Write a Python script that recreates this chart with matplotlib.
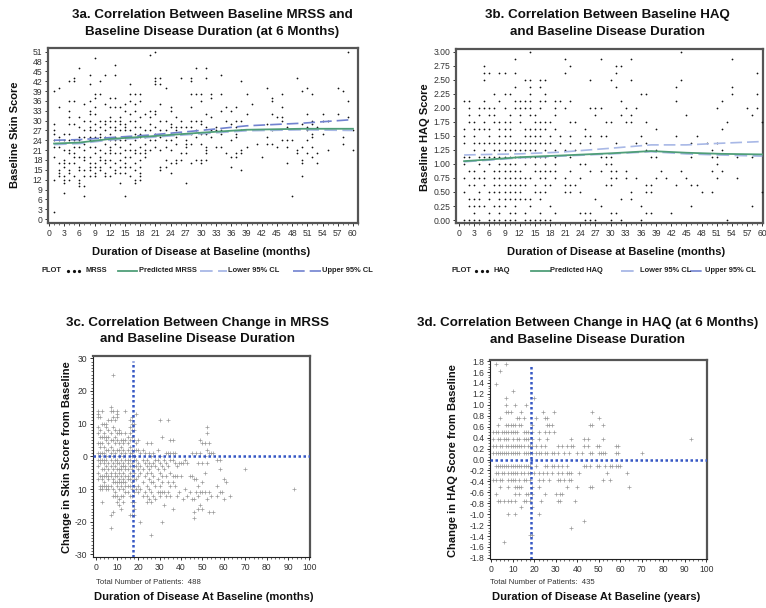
import matplotlib.pyplot as plt
from matplotlib.lines import Line2D
from matplotlib.ticker import MultipleLocator

plt.rcParams['font.family'] = ['Liberation Sans', 'DejaVu Sans']

# ---------------- data ----------------
# 3a: baseline MRSS by disease duration (months) -> list of scores
mrss_by_month = {
    1: [39, 29, 27, 26, 24, 22, 19, 12, 2], 2: [40, 34, 25, 24, 22, 17, 15, 14, 13],
    3: [26, 24, 21, 18, 17, 16, 13, 12, 11, 8],
    4: [42, 36, 33, 31, 29, 26, 24, 21, 20, 17, 15, 14, 12],
    5: [43, 42, 36, 29, 24, 22, 20, 19, 17, 13],
    6: [46, 31, 28, 25, 24, 22, 19, 16, 15, 12, 11, 10],
    7: [35, 30, 27, 25, 23, 21, 19, 18, 15, 13, 10, 7],
    8: [44, 41, 36, 33, 32, 30, 28, 27, 25, 24, 22, 19, 17, 16, 15, 13],
    9: [49, 38, 37, 34, 32, 29, 27, 25, 22, 20, 17, 16, 14, 13],
    10: [42, 38, 30, 28, 26, 25, 24, 21, 19, 18, 16, 15],
    11: [44, 35, 30, 29, 27, 25, 23, 20, 18, 17, 14, 13],
    12: [37, 34, 31, 30, 28, 26, 24, 22, 21, 20, 18, 16, 13],
    13: [47, 44, 37, 34, 30, 28, 27, 25, 24, 23, 20, 17, 15, 14],
    14: [34, 31, 30, 29, 27, 24, 22, 20, 18, 16, 14, 11],
    15: [35, 33, 29, 28, 27, 25, 24, 21, 19, 17, 16, 14, 7],
    16: [41, 38, 36, 32, 30, 27, 25, 23, 21, 19, 16, 13],
    17: [38, 35, 33, 30, 28, 26, 24, 21, 20, 17, 15, 12, 11],
    18: [38, 36, 31, 28, 26, 25, 22, 20, 18, 16, 14, 13, 12],
    19: [32, 27, 25, 23, 21, 20, 19], 20: [50, 33, 31, 29, 27, 24, 21],
    21: [51, 43, 42, 41, 33, 32, 28, 26, 24, 22],
    22: [43, 41, 35, 30, 27, 25, 21, 16, 15], 23: [40, 30, 27, 24, 22, 18, 16],
    24: [34, 33, 29, 28, 26, 24, 21, 17, 14], 25: [31, 28, 27, 25, 23, 18, 17],
    26: [43, 30, 28, 26, 20, 18], 27: [28, 24, 23, 22, 20, 11],
    28: [43, 42, 38, 34, 30, 28, 26, 23, 17], 29: [46, 38, 30, 27, 25, 18],
    30: [38, 36, 30, 29, 26, 23, 18, 17], 31: [46, 43, 32, 28, 26, 22, 21, 20, 18],
    32: [38, 37, 31, 27, 25], 33: [28, 27, 22], 34: [44, 38, 33, 27, 26, 22],
    35: [34, 30, 20], 36: [33, 29, 24, 19, 16], 37: [34, 30, 28, 26, 25, 20, 19],
    38: [42, 30, 27, 21, 20, 15], 39: [38, 32, 22], 40: [35], 41: [23], 42: [19],
    43: [40, 29, 25, 23], 44: [37, 36, 32, 27, 23], 45: [31, 22],
    46: [38, 34, 31, 30, 24], 47: [28, 24, 22, 17], 48: [24, 7], 49: [43, 21, 20],
    50: [39, 29, 22, 18, 17, 13], 51: [40, 32, 28, 27, 24, 20],
    52: [38, 30, 29, 26, 25, 22, 19], 53: [28, 20, 17], 54: [32, 30, 26],
    55: [30, 21], 57: [40, 32], 58: [39, 25, 23], 59: [51, 36, 31], 60: [27, 21],
}
mrss_fit_x = [1, 6, 12, 20, 30, 39, 50, 60]
mrss_pred = [23.0, 23.3, 24.4, 25.2, 26.3, 27.2, 27.5, 27.5]
mrss_lower = [22.7, 23.0, 24.1, 24.9, 26.0, 26.9, 27.2, 27.0]
mrss_upper = [24.0, 24.2, 24.8, 25.6, 27.0, 28.4, 29.2, 30.3]

# 3b: baseline HAQ level -> list of durations (months)
haq_by_level = {
    3.0: [14, 44], 2.875: [11, 21, 28, 34, 54], 2.75: [5, 22, 31, 32],
    2.625: [5, 6, 8, 9, 11, 21, 31, 59], 2.5: [5, 13, 14, 16, 17, 26, 30, 34, 44],
    2.375: [11, 14, 16, 31, 43, 54], 2.25: [7, 9, 10, 14, 17, 36, 37, 54, 59],
    2.125: [1, 2, 5, 8, 11, 12, 13, 14, 16, 17, 19, 20, 22, 32, 43, 52],
    2.0: [2, 4, 5, 6, 7, 9, 11, 12, 13, 14, 16, 19, 21, 26, 27, 28, 33, 35, 51, 57, 59],
    1.875: [2, 4, 6, 7, 10, 12, 14, 15, 19, 27, 32, 34, 45, 58],
    1.75: [2, 3, 5, 7, 8, 9, 10, 12, 15, 16, 17, 18, 22, 23, 29, 30, 33, 34, 37, 53, 60],
    1.625: [1, 3, 4, 5, 6, 8, 9, 10, 13, 14, 15, 16, 17, 19, 25, 39, 52],
    1.5: [1, 3, 6, 8, 9, 10, 13, 14, 15, 16, 18, 20, 22, 25, 26, 28, 29, 36, 43, 47],
    1.375: [1, 3, 4, 5, 6, 7, 8, 9, 10, 11, 12, 13, 14, 15, 16, 17, 18, 20, 22, 24,
            26, 31, 35, 37, 46, 49, 51],
    1.25: [3, 5, 7, 8, 9, 10, 11, 12, 13, 14, 15, 17, 19, 21, 23, 37, 39, 50, 52],
    1.125: [1, 2, 4, 5, 6, 7, 8, 9, 10, 11, 12, 13, 14, 15, 16, 17, 19, 22, 28, 29,
            30, 38, 39, 46, 50, 51, 55, 58],
    1.0: [1, 4, 6, 8, 9, 10, 11, 13, 15, 17, 19, 24, 25, 29, 30, 51],
    0.875: [2, 3, 5, 7, 8, 9, 10, 11, 12, 15, 16, 17, 18, 19, 22, 26, 28, 30, 31, 33,
            40, 44, 50, 52],
    0.75: [1, 3, 4, 5, 7, 8, 9, 10, 11, 12, 13, 14, 16, 17, 19, 21, 24, 30, 31, 33,
           35, 39, 41, 45, 51, 55],
    0.625: [2, 3, 5, 7, 8, 9, 10, 11, 12, 13, 15, 17, 18, 21, 22, 23, 29, 30, 37, 38,
            43, 46, 47],
    0.5: [1, 4, 6, 7, 8, 9, 10, 11, 12, 15, 16, 17, 21, 22, 24, 34, 37, 38, 48, 50, 60],
    0.375: [2, 3, 4, 6, 8, 9, 10, 11, 12, 13, 14, 16, 27, 32, 34],
    0.25: [2, 3, 4, 5, 7, 8, 9, 11, 14, 18, 28, 36, 46, 58],
    0.125: [3, 6, 8, 10, 11, 13, 16, 19, 24, 25, 26, 30, 31, 37, 38, 42],
    0.0: [1, 2, 3, 4, 6, 7, 8, 9, 10, 11, 13, 14, 15, 16, 17, 18, 25, 26, 27, 30, 32,
          36, 53],
}
haq_fit_x = [1, 6, 12, 20, 30, 38, 45, 52, 60]
haq_pred = [1.05, 1.08, 1.12, 1.15, 1.19, 1.23, 1.20, 1.18, 1.17]
haq_lower = [1.04, 1.07, 1.11, 1.14, 1.18, 1.22, 1.18, 1.16, 1.14]
haq_upper = [1.16, 1.17, 1.18, 1.21, 1.28, 1.34, 1.34, 1.37, 1.40]

# 3c: change in MRSS by disease duration (months)
dmrss_by_month = {
    1: [14, 13, 12, 9, 7, 4, 1, -1, -3, -5, -7],
    2: [12, 8, 6, 4, 3, 1, 0, -1, -2, -6, -9, -10],
    3: [14, 10, 6, 4, 1, -1, -4, -6, -7, -9, -10, -14],
    4: [10, 7, 6, 3, 1, -1, -2, -4, -6, -8, -9],
    5: [10, 9, 6, 5, 2, 0, -1, -3, -5, -6, -9, -10],
    6: [11, 8, 6, 4, 2, -2, -4, -6, -7, -9, -10],
    7: [15, 14, 11, 7, 5, 3, 1, -1, -3, -5, -6, -9, -18, -22],
    8: [25, 14, 12, 9, 5, 2, 0, -2, -4, -7, -8, -10, -12, -17],
    9: [11, 8, 6, 4, 1, -1, -3, -5, -6, -8, -11, -12],
    10: [14, 13, 12, 7, 5, 2, -1, -2, -4, -6, -8, -9, -12, -14],
    11: [8, 7, 4, 2, 0, -2, -4, -5, -7, -8, -10, -13, -15],
    12: [7, 5, 3, 1, -1, -3, -4, -6, -8, -9, -12, -16],
    13: [5, 4, 2, 0, -2, -3, -5, -7, -8, -10, -12, -14],
    14: [14, 7, 5, 1, -1, -3, -4, -6, -8, -9, -11],
    15: [6, 4, 2, -1, -2, -4, -6, -7, -9, -11],
    16: [11, 9, 7, 5, 3, 1, -1, -3, -5, -7, -9, -12, -18],
    17: [12, 10, 8, 6, 2, 1, 0, -2, -4, -6, -8, -10, -12, -14, -18],
    18: [10, 8, 5, 2, 0, -1, -3, -5, -7, -9, -11, -14, -16, -18],
    19: [13, 4, 2, -1, -3, -7, -10], 20: [5, 2, -2, -4, -6, -9, -11],
    21: [1, -3, -5, -10, -20], 22: [2, -1, -4, -8, -12], 23: [1, -2, -6, -11],
    24: [4, -1, -3, -5, -9, -12, -14], 25: [1, -2, -4, -7, -10, -13],
    26: [4, 0, -3, -5, -8, -11, -14, -24], 27: [1, -2, -6, -8, -12],
    28: [-1, -3, -9, -13], 29: [2, -1, -4, -7, -11], 30: [11, 0, -2, -5, -9, -11, -12],
    31: [6, -3, -6, -8, -11, -20], 32: [-1, -4, -11, -15], 33: [1, -2, -6, -12],
    34: [11, 1, -3, -8, -11], 35: [5, 1, -1, -5, -9, -12], 36: [5, 1, -1, -6, -8, -16],
    37: [1, -2, -6, -9], 38: [-3, -6, -12], 39: [-2, -11], 40: [-2, -6], 41: [-2, -13],
    42: [-1, -10], 43: [-2, -12], 44: [-6, -11], 45: [1, -6, -13],
    46: [-7, -13, -17, -19], 47: [1, -7, -11], 48: [-2, -9, -12, -16],
    49: [5, 1, -11, -15], 50: [4, -2, -8, -11, -16], 51: [4, 0, -5, -11],
    52: [9, 7, 2, -2, -13], 53: [4, 1, -11, -17], 54: [1, -12], 55: [1, -17],
    57: [-1, -9, -12], 58: [-1, -4, -11], 59: [-11], 60: [-7, -13], 61: [-8],
    63: [-12], 70: [-4], 93: [-10],
}
dmrss_median = 17.3

# 3d: change in HAQ level -> list of durations (years)
dhaq_by_level = {
    1.75: [2, 7], 1.625: [4], 1.375: [2], 1.25: [10], 1.125: [7, 20],
    1.0: [7, 11, 16], 0.875: [7, 8, 9, 14, 24, 29, 47],
    0.75: [4, 12, 13, 15, 21, 25, 26, 50],
    0.625: [3, 7, 8, 9, 10, 11, 13, 14, 19, 26, 27, 28, 46, 47, 52],
    0.5: [1, 2, 3, 5, 6, 7, 8, 9, 10, 11, 12, 15, 16, 17, 19, 22, 25, 27, 29],
    0.375: [1, 3, 4, 6, 7, 8, 10, 12, 13, 15, 16, 17, 19, 22, 26, 37, 43, 45, 52, 93],
    0.25: [1, 2, 4, 5, 7, 8, 9, 10, 11, 12, 13, 14, 15, 17, 18, 19, 21, 23, 25, 31,
           33, 35, 37, 38, 43, 45, 49, 50, 58, 59],
    0.125: [1, 2, 3, 4, 5, 6, 7, 8, 9, 10, 11, 12, 13, 15, 16, 17, 18, 19, 21, 22, 23,
            25, 26, 28, 29, 31, 34, 36, 40, 42, 46, 47, 50, 51, 52, 53, 58, 59, 70],
    -0.125: [2, 3, 4, 5, 6, 7, 8, 9, 10, 11, 12, 13, 14, 15, 16, 17, 18, 21, 25, 26,
             28, 29, 31, 33, 35, 43, 44, 46, 49, 50, 53, 55, 56, 58, 59, 60],
    -0.25: [2, 3, 5, 6, 8, 9, 10, 11, 12, 14, 15, 17, 18, 20, 22, 24, 26, 28, 31, 33,
            35, 36, 37, 41, 54, 63],
    -0.375: [1, 2, 4, 5, 8, 9, 10, 11, 13, 15, 16, 18, 22, 24, 27, 31, 32, 34, 36, 37,
             52, 55],
    -0.5: [4, 8, 11, 12, 13, 14, 19, 22, 35, 40, 46, 47, 64],
    -0.625: [2, 11, 13, 16, 17, 19, 25, 30, 32, 33],
    -0.75: [3, 4, 6, 8, 9, 11, 15, 16, 18, 23, 31, 32, 39],
    -0.875: [14, 19], -1.0: [8, 11, 22], -1.125: [43], -1.25: [37],
    -1.375: [18, 19], -1.5: [6],
}
dhaq_median = 18.4

GREEN = '#4f9e78'
LOWER = '#a8b8e6'
UPPER = '#7182cf'
REF = '#3557c4'
SPINE = '#555555'


def flatten_by_x(d):
    xs, ys = [], []
    for x, vals in d.items():
        xs += [x] * len(vals)
        ys += vals
    return xs, ys


def flatten_by_y(d):
    xs, ys = [], []
    for y, vals in d.items():
        xs += vals
        ys += [y] * len(vals)
    return xs, ys


def style_axes(ax, heavy_all=True):
    for name, sp in ax.spines.items():
        sp.set_color(SPINE)
        sp.set_linewidth(1.6)
    if not heavy_all:
        ax.spines['left'].set_color('#222')
        ax.spines['left'].set_linewidth(0.8)
        ax.spines['bottom'].set_color('#222')
        ax.spines['bottom'].set_linewidth(0.8)
    ax.tick_params(which='major', direction='out', length=2.5, width=0.7,
                   labelsize=6.2, labelcolor='#333', colors='#333', pad=1.5)
    ax.tick_params(which='minor', direction='out', length=1.5, width=0.5, colors='#333')


fig = plt.figure(figsize=(7.66, 6.08), dpi=100)
W, H = 766.0, 608.0


def axes_px(left, top, right, bottom):
    return fig.add_axes([left / W, 1 - bottom / H, (right - left) / W, (bottom - top) / H])


def ftext(x, y, s, **kw):
    fig.text(x / W, 1 - y / H, s, **kw)


def fline(x0, x1, y, **kw):
    fig.add_artist(Line2D([x0 / W, x1 / W], [1 - y / H, 1 - y / H],
                          transform=fig.transFigure, **kw))


title_kw = dict(fontsize=9.6, fontweight='bold', ha='center', va='center', color='#111')
lab_kw = dict(fontsize=8.0, fontweight='bold', ha='center', va='center', color='#111')

# ---------------- 3a ----------------
ax = axes_px(48, 48, 358, 223)
mx, my = flatten_by_x(mrss_by_month)
ax.scatter(mx, my, s=1.6, color='#111', linewidths=0, zorder=3)
ax.plot(mrss_fit_x, mrss_lower, color=LOWER, lw=1.3, dashes=(7, 3), zorder=4)
ax.plot(mrss_fit_x, mrss_pred, color=GREEN, lw=1.3, zorder=5)
ax.plot(mrss_fit_x, mrss_upper, color=UPPER, lw=1.2, dashes=(7, 3), zorder=4)
ax.set_xlim(-0.2, 61)
ax.set_ylim(-1.2, 52.1)
ax.set_xticks(range(0, 61, 3))
ax.set_yticks(range(0, 52, 3))
ax.xaxis.set_minor_locator(MultipleLocator(1))
style_axes(ax)
ftext(212, 15, '3a. Correlation Between Baseline MRSS and', **title_kw)
ftext(212, 32, 'Baseline Disease Duration (at 6 Months)', **title_kw)
ftext(201, 252, 'Duration of Disease at Baseline (months)', **lab_kw)
ftext(15, 135, 'Baseline Skin Score', rotation=90, **lab_kw)

# ---------------- 3b ----------------
ax = axes_px(456, 49, 763, 223)
hx, hy = flatten_by_y(haq_by_level)
ax.scatter(hx, hy, s=1.6, color='#111', linewidths=0, zorder=3)
ax.plot(haq_fit_x, haq_lower, color=LOWER, lw=1.3, dashes=(7, 3), zorder=4)
ax.plot(haq_fit_x, haq_pred, color=GREEN, lw=1.3, zorder=5)
ax.plot(haq_fit_x, haq_upper, color=LOWER, lw=1.2, dashes=(7, 3), zorder=4)
ax.set_xlim(-0.6, 60.15)
ax.set_ylim(-0.053, 3.05)
ax.set_xticks(range(0, 61, 3))
ax.set_yticks([i * 0.25 for i in range(13)])
ax.set_yticklabels([f'{i * 0.25:.2f}' for i in range(13)])
ax.xaxis.set_minor_locator(MultipleLocator(1))
style_axes(ax)
ftext(607, 15, '3b. Correlation Between Baseline HAQ', **title_kw)
ftext(607, 32, 'and Baseline Disease Duration', **title_kw)
ftext(616, 252, 'Duration of Disease at Baseline (months)', **lab_kw)
ftext(425, 137, 'Baseline HAQ Score', rotation=90, **lab_kw)

# legends for 3a / 3b (x positions in pixels)
leg_kw = dict(fontsize=5.4, fontweight='bold', va='center', ha='left', color='#222')
for name, xs in [('MRSS', (41, 67, 86, 118, 139, 200, 228, 293, 322)),
                 ('HAQ', (451, 475, 493, 531, 550, 621, 640, 690, 705))]:
    y = 271
    ftext(xs[0], y, 'PLOT', **leg_kw)
    for k in range(3):
        fig.add_artist(Line2D([(xs[1] + 1 + 5.5 * k) / W], [1 - y / H], marker='o',
                              ms=1.3, color='#111', transform=fig.transFigure))
    ftext(xs[2], y, name, **leg_kw)
    fline(xs[3], xs[3] + 19, y, color=GREEN, lw=1.3)
    ftext(xs[4], y, 'Predicted ' + name, **leg_kw)
    fline(xs[5], xs[6] - 1, y, color=LOWER, lw=1.3, dashes=(7, 3))
    ftext(xs[6], y, 'Lower 95% CL', **leg_kw)
    fline(xs[7], xs[8] - 1, y, color=UPPER, lw=1.2, dashes=(7, 3))
    ftext(xs[8], y, 'Upper 95% CL', **leg_kw)

# ---------------- 3c ----------------
ax = axes_px(93, 356, 310, 557)
cx, cy = flatten_by_x(dmrss_by_month)
ax.scatter(cx, cy, s=5, marker='+', color='#9a9a9a', linewidths=0.5, zorder=3)
ax.axhline(0, color=REF, lw=1.8, ls=(0, (1, 1)), zorder=4)
ax.plot([dmrss_median, dmrss_median], [-30.8, 29.3], color=REF, lw=1.8,
        ls=(0, (1, 1)), zorder=4)
ax.set_xlim(-1.2, 100.3)
ax.set_ylim(-30.8, 30.7)
ax.set_xticks(range(0, 101, 10))
ax.set_yticks(range(-30, 31, 10))
ax.set_yticklabels(['-30', '-20', '10', '0', '10', '20', '30'])
ax.xaxis.set_minor_locator(MultipleLocator(2))
ax.yaxis.set_minor_locator(MultipleLocator(1))
style_axes(ax, heavy_all=False)
ftext(198, 323, '3c. Correlation Between Change in MRSS', **title_kw)
ftext(198, 339, 'and Baseline Disease Duration', **title_kw)
ftext(96, 582, 'Total Number of Patients:  488', fontsize=5.6, ha='left', va='center',
      color='#333')
ftext(204, 597, 'Duration of Disease At Baseline (months)', **lab_kw)
ftext(67, 457, 'Change in Skin Score from Baseline', rotation=90, **lab_kw)

# ---------------- 3d ----------------
ax = axes_px(490, 360, 707, 559)
dx, dy = flatten_by_y(dhaq_by_level)
ax.scatter(dx, dy, s=5, marker='+', color='#9a9a9a', linewidths=0.5, zorder=3)
ax.axhline(0, color=REF, lw=1.8, ls=(0, (1, 1)), zorder=4)
ax.plot([dhaq_median, dhaq_median], [-1.82, 1.73], color=REF, lw=1.8,
        ls=(0, (1, 1)), zorder=4)
ax.set_xlim(-0.6, 100.3)
ax.set_ylim(-1.82, 1.82)
ax.set_xticks(range(0, 101, 10))
yt = [round(-1.8 + 0.2 * i, 1) for i in range(19)]
ax.set_yticks(yt)
ax.set_yticklabels([f'{v:.1f}' if v != 0 else '0.0' for v in yt])
ax.xaxis.set_minor_locator(MultipleLocator(2))
ax.yaxis.set_minor_locator(MultipleLocator(0.05))
style_axes(ax, heavy_all=False)
ftext(588, 323, '3d. Correlation Between Change in HAQ (at 6 Months)', **title_kw)
ftext(588, 340, 'and Baseline Disease Duration', **title_kw)
ftext(490, 582, 'Total Number of Patients:  435', fontsize=5.6, ha='left', va='center',
      color='#333')
ftext(596, 597, 'Duration of Disease At Baseline (years)', **lab_kw)
ftext(453, 461, 'Change in HAQ Score from Baseline', rotation=90, **lab_kw)

fig.savefig('out.png', dpi=100, facecolor='white')
